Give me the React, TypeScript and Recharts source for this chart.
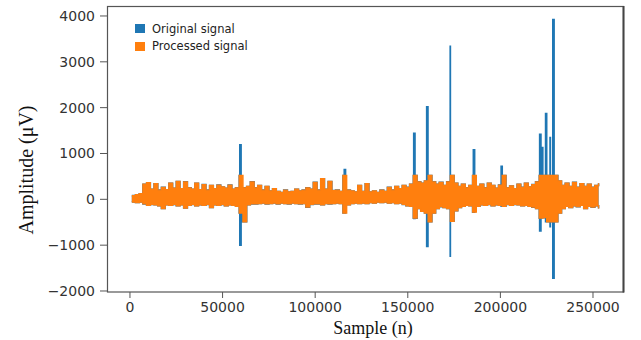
import React from 'react';
import { ComposedChart, Area, XAxis, YAxis } from 'recharts';

// Sample bins: each bin covers BIN_STEP samples, centred at index * BIN_STEP + BIN_STEP / 2
const BIN_STEP = 2000;

// Processed signal: upper / lower envelope of each bin (µV)
const processedHi = [
  80, 100, 120, 330, 360, 220, 340, 200, 260, 210,
  350, 240, 390, 230, 380, 250, 220, 350, 210, 320,
  200, 300, 230, 310, 270, 240, 310, 220, 250, 520,
  250, 280, 380, 250, 300, 200, 280, 180, 230, 170,
  150, 200, 160, 170, 220, 180, 200, 250, 220, 370,
  200, 450, 220, 390, 190, 200, 170, 520, 200, 180,
  160, 300, 170, 340, 160, 180, 150, 200, 170, 260,
  200, 280, 230, 300, 260, 330, 520, 380, 350, 400,
  520, 380, 330, 370, 300, 380, 520, 350, 280, 330,
  250, 300, 520, 280, 330, 250, 350, 300, 240, 310,
  520, 250, 290, 230, 330, 260, 350, 270, 320, 380,
  520, 520, 520, 520, 520, 400, 300, 350, 280, 370,
  260, 340, 280, 330, 260, 300, 350,
];
const processedLo = [
  -60, -70, -60, -100, -130, -110, -120, -140, -200, -120,
  -130, -110, -140, -120, -190, -130, -110, -140, -120, -130,
  -110, -180, -120, -130, -110, -140, -120, -130, -150, -300,
  -490, -120, -100, -100, -90, -80, -100, -90, -80, -100,
  -80, -90, -100, -80, -90, -100, -90, -170, -110, -100,
  -100, -120, -90, -100, -90, -80, -90, -300, -120, -90,
  -80, -90, -80, -90, -70, -80, -60, -70, -60, -80,
  -70, -90, -80, -110, -140, -150, -410, -200, -260, -300,
  -490, -300, -200, -160, -180, -200, -480, -250, -180, -150,
  -130, -140, -280, -150, -120, -130, -110, -140, -120, -130,
  -150, -110, -130, -110, -120, -140, -130, -150, -170, -200,
  -410, -400, -490, -490, -490, -300, -200, -150, -180, -140,
  -160, -130, -200, -150, -170, -140, -200,
];

// Original signal: artefact spikes that exceed the processed signal
const spikeSamples = [59300, 115700, 153200, 160200, 172900, 185400, 200400, 221200, 222200, 224400, 226800, 228300];
const spikeMax = [1190, 650, 1440, 2020, 3340, 1080, 720, 1420, 1130, 1870, 1350, 3920];
const spikeMin = [-1000, -300, -420, -1030, -1240, -280, -150, -690, -400, -490, -600, -1720];
const SPIKE_WIDTH = 700;

const xTicks = [0, 50000, 100000, 150000, 200000, 250000];
const yTicks = [-2000, -1000, 0, 1000, 2000, 3000, 4000];

const legendItems = [
  { label: 'Original signal', color: '#1f77b4' },
  { label: 'Processed signal', color: '#ff7f0e' },
];

type Pt = { x: number; range: [number, number] };

const processedData: Pt[] = processedHi.map((hi, i) => ({
  x: i * BIN_STEP + BIN_STEP / 2,
  range: [processedLo[i], hi] as [number, number],
}));

const binAt = (s: number) => Math.min(processedHi.length - 1, Math.max(0, Math.floor(s / BIN_STEP)));

const originalData: Pt[] = [...processedData];
spikeSamples.forEach((s, i) => {
  const b = binAt(s + SPIKE_WIDTH);
  originalData.push({ x: s, range: [spikeMin[i], spikeMax[i]] });
  originalData.push({ x: s + SPIKE_WIDTH, range: [processedLo[b], processedHi[b]] });
});
originalData.sort((a, b) => a.x - b.x);

const fmt = (v: number) => (v < 0 ? '\u2212' + Math.abs(v) : String(v));

const tickStyle = { fontFamily: 'DejaVu Sans, sans-serif', fontSize: 14, fill: '#333' };
const spine = '#555';

export default function App() {
  return (
    <div style={{ position: 'absolute', left: 0, top: 0, width: 641, height: 340, background: '#fff' }}>
      <ComposedChart width={641} height={340} margin={{ top: 7, right: 18, bottom: 0, left: 0 }}>
        <XAxis
          type="number"
          dataKey="x"
          domain={[-12400, 266200]}
          ticks={xTicks}
          allowDataOverflow
          height={48}
          tick={tickStyle}
          tickSize={6}
          tickMargin={4}
          stroke={spine}
          axisLine={false}
          tickFormatter={fmt}
        />
        <YAxis
          type="number"
          domain={[-2022, 4196]}
          ticks={yTicks}
          allowDataOverflow
          width={107}
          tick={tickStyle}
          tickSize={7}
          tickMargin={5}
          stroke={spine}
          axisLine={false}
          tickFormatter={fmt}
        />
        <Area
          data={originalData}
          dataKey="range"
          type="stepAfter"
          stroke="#1f77b4"
          strokeWidth={1.6}
          fill="#1f77b4"
          fillOpacity={1}
          dot={false}
          activeDot={false}
          isAnimationActive={false}
        />
        <Area
          data={processedData}
          dataKey="range"
          type="stepAfter"
          stroke="#ff7f0e"
          strokeWidth={1.4}
          fill="#ff7f0e"
          fillOpacity={1}
          dot={false}
          activeDot={false}
          isAnimationActive={false}
        />
      </ComposedChart>
      <svg width={641} height={340} style={{ position: 'absolute', left: 0, top: 0, pointerEvents: 'none' }}>
        <rect x={107.5} y={6.5} width={516} height={285.5} fill="none" stroke={spine} strokeWidth={1.2} />
        <line x1={623.5} y1={6} x2={623.5} y2={292.5} stroke="#444" strokeWidth={2} />
      </svg>
      <div style={{ position: 'absolute', left: 135, top: 20, fontFamily: 'DejaVu Sans, sans-serif', fontSize: 11.5, color: '#222' }}>
        {legendItems.map((it) => (
          <div key={it.label} style={{ display: 'flex', alignItems: 'center', height: 17.4 }}>
            <span style={{ display: 'inline-block', width: 10, height: 9, background: it.color, marginRight: 7 }} />
            <span>{it.label}</span>
          </div>
        ))}
      </div>
      <div
        style={{
          position: 'absolute', left: 373, top: 328, transform: 'translate(-50%, -50%)',
          fontFamily: 'Liberation Serif, serif', fontSize: 18, color: '#111', whiteSpace: 'nowrap',
        }}
      >
        Sample (n)
      </div>
      <div
        style={{
          position: 'absolute', left: 26, top: 170, transform: 'translate(-50%, -50%) rotate(-90deg)',
          fontFamily: 'Liberation Serif, serif', fontSize: 20, color: '#111', whiteSpace: 'nowrap',
        }}
      >
        Amplitude (μV)
      </div>
    </div>
  );
}
